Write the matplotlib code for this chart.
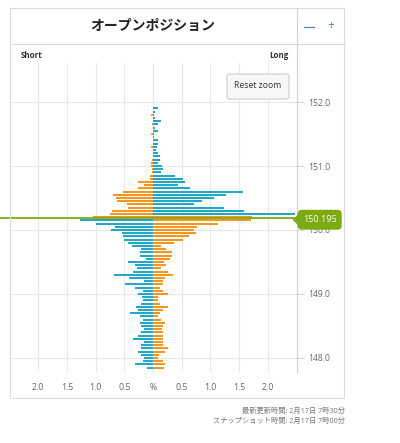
import numpy as np
import matplotlib
matplotlib.use("Agg")
import matplotlib.pyplot as plt
from matplotlib.patches import Rectangle, FancyBboxPatch, Polygon
from matplotlib.lines import Line2D

plt.rcParams['font.family'] = ['Open Sans', 'Noto Sans CJK JP', 'DejaVu Sans']

# price levels (top to bottom)
prices = [151.90, 151.85, 151.80, 151.75, 151.70, 151.65, 151.60, 151.55, 151.50, 151.45,
          151.40, 151.35, 151.30, 151.25, 151.20, 151.15, 151.10, 151.05, 151.00, 150.95,
          150.90, 150.85, 150.80, 150.75, 150.70, 150.65, 150.60, 150.55, 150.50, 150.45,
          150.40, 150.35, 150.30, 150.25, 150.20, 150.15, 150.10, 150.05, 150.00, 149.95,
          149.90, 149.85, 149.80, 149.75, 149.70, 149.65, 149.60, 149.55, 149.50, 149.45,
          149.40, 149.35, 149.30, 149.25, 149.20, 149.15, 149.10, 149.05, 149.00, 148.95,
          148.90, 148.85, 148.80, 148.75, 148.70, 148.65, 148.60, 148.55, 148.50, 148.45,
          148.40, 148.35, 148.30, 148.25, 148.20, 148.15, 148.10, 148.05, 148.00, 147.95,
          147.90, 147.85]

short_pct = [0, 0, 0.03, 0, 0, 0.01, 0, 0, 0.03, 0,
             0, 0, 0.03, 0, 0, 0, 0.01, 0.03, 0.03, 0.01,
             0.02, 0.05, 0.06, 0.27, 0.16, 0.27, 0.52, 0.70, 0.65, 0.62,
             0.46, 0.43, 0.72, 0.75, 1.05, 1.28, 0.99, 0.66, 0.73, 0.54,
             0.53, 0.50, 0.44, 0.37, 0.21, 0.22, 0.22, 0.12, 0.44, 0.31,
             0.28, 0.35, 0.68, 0.42, 0.16, 0.49, 0.31, 0.17, 0.26, 0.20,
             0.18, 0.21, 0.30, 0.27, 0.40, 0.22, 0.17, 0.23, 0.21, 0.15,
             0.21, 0.26, 0.34, 0.15, 0.21, 0.21, 0.27, 0.21, 0.15, 0.18,
             0.32, 0.10]

long_pct = [0.08, 0.04, 0.02, 0.03, 0.14, 0.09, 0.04, 0.08, 0.02, 0.01,
            0.08, 0.09, 0.07, 0.06, 0.09, 0.13, 0.12, 0.08, 0.15, 0.17,
            0.14, 0.39, 0.53, 0.56, 0.43, 0.64, 1.56, 1.28, 1.06, 0.86,
            0.71, 1.23, 1.58, 2.47, 1.72, 1.70, 1.14, 0.76, 0.72, 0.75,
            0.63, 0.53, 0.36, 0.14, 0.23, 0.33, 0.33, 0.29, 0.19, 0.23,
            0.14, 0.27, 0.34, 0.21, 0.17, 0.17, 0.13, 0.17, 0.27, 0.08,
            0.08, 0.13, 0.26, 0.17, 0.13, 0.09, 0.14, 0.21, 0.17, 0.15,
            0.17, 0.17, 0.17, 0.18, 0.18, 0.27, 0.21, 0.11, 0.09, 0.17,
            0.21, 0.20]

current_price = 150.195
x_ticks = [-2.0, -1.5, -1.0, -0.5, 0, 0.5, 1.0, 1.5, 2.0]
x_labels = ['2.0', '1.5', '1.0', '0.5', '%', '0.5', '1.0', '1.5', '2.0']
y_ticks = [148.0, 149.0, 150.0, 151.0, 152.0]

BLUE = '#22a7c9'
ORANGE = '#f7961f'
GREEN = '#7caa10'
GRID = '#e8e8e8'
BORDER = '#dcdcdc'

W, H = 400, 443
fig = plt.figure(figsize=(W / 100, H / 100), dpi=100)

def fx(px):
    return px / W

def fy(py):
    return 1 - py / H

# axes: x pixels 9.5..296.5, y pixels 63..372
ax = fig.add_axes([fx(9.5), fy(372), fx(296.5) - fx(9.5), fy(63) - fy(372)])
ax.set_xlim(-2.5, 2.5)
ax.set_ylim(147.78, 152.61)

p = np.array(prices)
s = np.array(short_pct)
l = np.array(long_pct)
short_cols = [ORANGE if v >= 150.2 else BLUE for v in p]
long_cols = [BLUE if v >= 150.25 else ORANGE for v in p]

ax.barh(p, -s, height=0.031, color=short_cols, lw=0, zorder=3)
ax.barh(p, l, height=0.031, color=long_cols, lw=0, zorder=3)

# grid
for xt in x_ticks:
    ax.axvline(xt, color=GRID, lw=0.8, zorder=1)
for yt in y_ticks:
    ax.axhline(yt, color=GRID, lw=0.8, zorder=1)

ax.set_xticks([])
ax.yaxis.tick_right()
ax.set_yticks(y_ticks)
ax.set_yticklabels(['%.1f' % v for v in y_ticks], fontsize=6.2, color='#666666')
ax.tick_params(axis='y', length=5, width=0.8, color='#d8d8d8', pad=3.5)
for sp in ['top', 'left', 'bottom']:
    ax.spines[sp].set_visible(False)
ax.spines['right'].set_color('#d0d0d0')
ax.spines['right'].set_linewidth(0.8)

for xt, lab in zip(x_ticks, x_labels):
    ax.text(xt, -0.036, lab, transform=ax.get_xaxis_transform(), ha='center', va='top',
            fontsize=6.3, color='#666666')

# current price line + label
ax.plot([-2.67, 2.5], [current_price, current_price], color=GREEN, lw=1.3, zorder=4, clip_on=False)
bx0, bx1 = 298.5, 341
by0, by1 = 210.5, 229
fig.add_artist(FancyBboxPatch((fx(bx0), fy(by1)), fx(bx1) - fx(bx0), fy(by0) - fy(by1),
                              boxstyle='round,pad=0,rounding_size=0.008', fc=GREEN, ec=GREEN,
                              transform=fig.transFigure, zorder=10))
fig.add_artist(Polygon([(fx(293.5), fy(219.8)), (fx(299), fy(214.5)), (fx(299), fy(225))],
                       closed=True, fc=GREEN, ec=GREEN, transform=fig.transFigure, zorder=10))
fig.text(fx(320), fy(220), '%.3f' % current_price, color='white', fontsize=6.5,
         ha='center', va='center', zorder=11)

# outer box and title
fig.add_artist(Rectangle((fx(9.5), fy(398)), fx(344.5) - fx(9.5), fy(8) - fy(398),
                         fill=False, ec=BORDER, lw=0.8, transform=fig.transFigure))
fig.add_artist(Line2D([fx(9.5), fx(344.5)], [fy(44), fy(44)], color=BORDER, lw=0.8))
fig.add_artist(Line2D([fx(296.5), fx(296.5)], [fy(8), fy(63)], color='#d0d0d0', lw=0.8))

fig.text(fx(153), fy(26), 'オープンポジション', fontsize=10, fontweight='bold',
         color='#222222', ha='center', va='center')
fig.add_artist(Line2D([fx(304), fx(314)], [fy(26.5), fy(26.5)], color='#4f86b8', lw=0.9))
fig.text(fx(331), fy(26), '+', fontsize=8.5, color='#4f86b8', ha='center', va='center')
fig.text(fx(21), fy(55), 'Short', fontsize=5.8, fontweight='bold', color='#333333',
         ha='left', va='center')
fig.text(fx(288), fy(55), 'Long', fontsize=5.8, fontweight='bold', color='#333333',
         ha='right', va='center')

# reset zoom button
fig.add_artist(FancyBboxPatch((fx(227), fy(99)), fx(289) - fx(227), fy(74) - fy(99),
                              boxstyle='round,pad=0,rounding_size=0.006', fc='#f7f7f7',
                              ec='#cccccc', lw=0.8, transform=fig.transFigure, zorder=8))
fig.text(fx(258), fy(86), 'Reset zoom', fontsize=6.2, color='#333333',
         ha='center', va='center', zorder=9)

# footer
fig.text(fx(345), fy(411.5), '最新更新時間: 2月17日 7時30分', fontsize=5.2, color='#777777',
         ha='right', va='center')
fig.text(fx(345), fy(421.5), 'スナップショット時間: 2月17日 7時00分', fontsize=5.2,
         color='#777777', ha='right', va='center')

fig.savefig('out.png', dpi=100, facecolor='white')
